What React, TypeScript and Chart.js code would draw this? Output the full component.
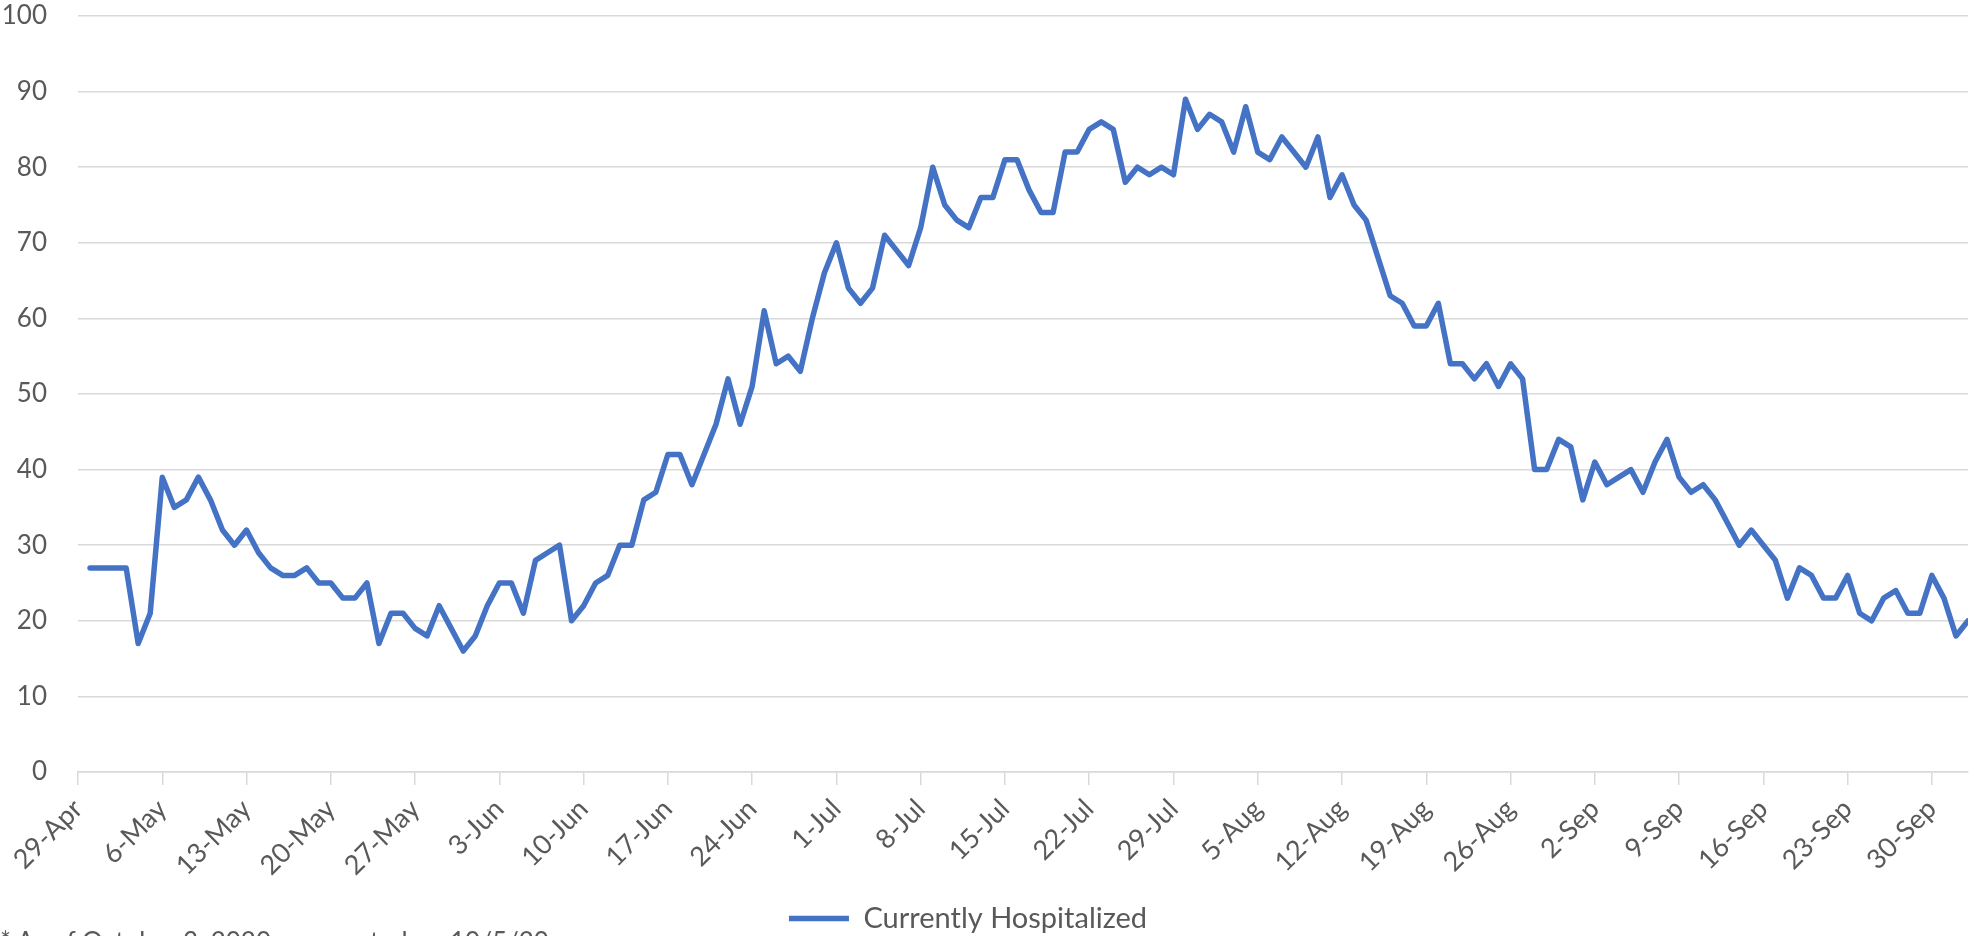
import React, { useEffect, useRef } from "react";
import { Chart, registerables } from "chart.js";

Chart.register(...registerables);

// Axis tick labels (weekly, starting at 29-Apr = day 0)
const tickLabels = [
  "29-Apr", "6-May", "13-May", "20-May", "27-May", "3-Jun", "10-Jun", "17-Jun",
  "24-Jun", "1-Jul", "8-Jul", "15-Jul", "22-Jul", "29-Jul", "5-Aug", "12-Aug",
  "19-Aug", "26-Aug", "2-Sep", "9-Sep", "16-Sep", "23-Sep", "30-Sep",
];
const daysPerTick = 7;
const axisEndDay = 157; // 3-Oct
const firstDataDay = 1; // 30-Apr

// Y axis
const yMin = 0;
const yMax = 100;
const yStep = 10;

const seriesName = "Currently Hospitalized";

// Daily values, 30-Apr .. 3-Oct
const hospitalized = [
  27, 27, 27, 27, 17, 21, 39, 35, 36, 39,
  36, 32, 30, 32, 29, 27, 26, 26, 27, 25,
  25, 23, 23, 25, 17, 21, 21, 19, 18, 22,
  19, 16, 18, 22, 25, 25, 21, 28, 29, 30,
  20, 22, 25, 26, 30, 30, 36, 37, 42, 42,
  38, 42, 46, 52, 46, 51, 61, 54, 55, 53,
  60, 66, 70, 64, 62, 64, 71, 69, 67, 72,
  80, 75, 73, 72, 76, 76, 81, 81, 77, 74,
  74, 82, 82, 85, 86, 85, 78, 80, 79, 80,
  79, 89, 85, 87, 86, 82, 88, 82, 81, 84,
  82, 80, 84, 76, 79, 75, 73, 68, 63, 62,
  59, 59, 62, 54, 54, 52, 54, 51, 54, 52,
  40, 40, 44, 43, 36, 41, 38, 39, 40, 37,
  41, 44, 39, 37, 38, 36, 33, 30, 32, 30,
  28, 23, 27, 26, 23, 23, 26, 21, 20, 23,
  24, 21, 21, 26, 23, 18, 20,
];

const footnote = "* As of October 3, 2020 as reported on 10/5/20";

const TEXT = "#595959";
const GRID = "#D9D9D9";
const LINE = "#4472C4";
const FONT = "Lato, 'Open Sans', sans-serif";

export default function App() {
  const ref = useRef<HTMLCanvasElement>(null);

  useEffect(() => {
    const canvas = ref.current;
    if (!canvas) return;
    const chart = new Chart(canvas, {
      type: "line",
      data: {
        datasets: [
          {
            label: seriesName,
            data: hospitalized.map((v, i) => ({ x: firstDataDay + i, y: v })),
            borderColor: LINE,
            backgroundColor: LINE,
            borderWidth: 5.5,
            pointRadius: 0,
            pointHoverRadius: 0,
            tension: 0,
            borderJoinStyle: "round",
            borderCapStyle: "round",
            pointStyle: "line",
          },
        ],
      },
      options: {
        responsive: false,
        maintainAspectRatio: false,
        animation: false,
        layout: { padding: { left: -32, right: 4, top: 0, bottom: 0 } },
        plugins: {
          legend: {
            position: "bottom",
            labels: {
              usePointStyle: true,
              pointStyle: "line",
              pointStyleWidth: 60,
              boxHeight: 5,
              padding: 6,
              color: TEXT,
              font: { family: FONT, size: 29 },
            },
          },
          tooltip: { enabled: false },
        },
        scales: {
          x: {
            type: "linear",
            min: 0,
            max: axisEndDay,
            afterFit: (s: any) => {
              s.height = 126;
            },
            grid: {
              drawOnChartArea: false,
              color: GRID,
              lineWidth: 1.5,
              tickLength: 13,
            },
            border: { color: GRID, width: 1.5 },
            ticks: {
              stepSize: daysPerTick,
              includeBounds: false,
              autoSkip: false,
              maxRotation: 45,
              minRotation: 45,
              padding: 8,
              color: TEXT,
              font: { family: FONT, size: 27 },
              callback: (v: any) => tickLabels[Math.round(Number(v) / daysPerTick)] ?? "",
            },
          },
          y: {
            min: yMin,
            max: yMax,
            afterFit: (s: any) => {
              s.width = 110;
              s.paddingTop = 16;
              s.paddingBottom = 0;
            },
            grid: { color: GRID, lineWidth: 1.5, drawTicks: false },
            border: { display: false },
            ticks: {
              stepSize: yStep,
              padding: 31,
              color: TEXT,
              font: { family: FONT, size: 26 },
            },
          },
        },
      },
    });
    return () => chart.destroy();
  }, []);

  return (
    <div
      style={{
        position: "fixed",
        left: 0,
        top: 0,
        width: 1972,
        height: 936,
        overflow: "hidden",
        background: "#ffffff",
      }}
    >
      <canvas
        ref={ref}
        width={1972}
        height={943}
        style={{ position: "absolute", left: 0, top: 0, width: 1972, height: 943 }}
      />
      <div
        style={{
          position: "absolute",
          left: 0,
          top: 926,
          fontFamily: FONT,
          fontSize: 26,
          color: TEXT,
          whiteSpace: "nowrap",
          lineHeight: "30px",
        }}
      >
        {footnote}
      </div>
    </div>
  );
}
